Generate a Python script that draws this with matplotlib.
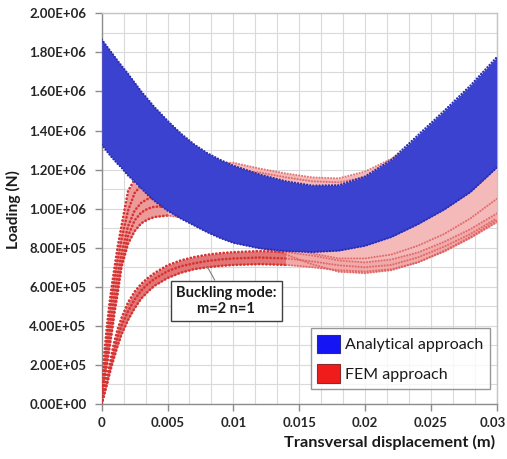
import matplotlib
matplotlib.use("Agg")
import matplotlib.pyplot as plt
from matplotlib.ticker import MultipleLocator, FixedLocator, FuncFormatter
from matplotlib.patches import Patch
from matplotlib.transforms import ScaledTranslation

plt.rcParams['font.family'] = ['Lato', 'DejaVu Sans']

# ---------------- data ----------------
disp = [0, 0.0002, 0.0004, 0.0006, 0.0008, 0.001, 0.0012, 0.0015, 0.002, 0.0025,
        0.003, 0.0035, 0.004, 0.005, 0.006, 0.007, 0.008, 0.009, 0.010, 0.012,
        0.014, 0.016, 0.018, 0.020, 0.022, 0.024, 0.026, 0.028, 0.030]

# Analytical approach: upper and lower envelope of the blue family (x1e6 N)
analytical_top = [1.866, 1.848, 1.830, 1.812, 1.794, 1.776, 1.758, 1.732, 1.690, 1.645,
                  1.600, 1.560, 1.520, 1.450, 1.385, 1.330, 1.285, 1.250, 1.220, 1.175,
                  1.140, 1.118, 1.120, 1.165, 1.250, 1.375, 1.500, 1.630, 1.775]
analytical_bottom = [1.328, 1.310, 1.293, 1.276, 1.260, 1.245, 1.230, 1.210, 1.170, 1.140,
                     1.105, 1.070, 1.040, 0.990, 0.950, 0.915, 0.880, 0.850, 0.825, 0.797,
                     0.783, 0.778, 0.785, 0.810, 0.855, 0.920, 0.995, 1.085, 1.210]

# FEM approach: upper fan of curves (x1e6 N)
fem_fan_1 = [0, 0.26, 0.40, 0.52, 0.62, 0.71, 0.80, 0.91, 1.09, 1.15,
             1.16, 1.165, 1.17, 1.175, 1.185, 1.20, 1.215, 1.235, 1.235, 1.205,
             1.18, 1.16, 1.155, 1.19, 1.255, 1.34, 1.44, 1.55, 1.67]
fem_fan_2 = [0, 0.20, 0.34, 0.46, 0.56, 0.65, 0.73, 0.84, 0.99, 1.08,
             1.12, 1.14, 1.15, 1.16, 1.17, 1.18, 1.19, 1.20, 1.20, 1.185,
             1.16, 1.14, 1.135, 1.16, 1.22, 1.30, 1.39, 1.49, 1.60]
fem_fan_3 = [0, 0.15, 0.28, 0.39, 0.49, 0.58, 0.66, 0.77, 0.91, 0.99,
             1.03, 1.05, 1.06, 1.06, 1.05, 1.03, 1.00, 0.98, 0.96, 0.94,
             0.93, 0.93, 0.94, 0.96, 1.00, 1.06, 1.13, 1.22, 1.33]
fem_fan_4 = [0, 0.13, 0.24, 0.34, 0.43, 0.52, 0.60, 0.72, 0.86, 0.94,
             0.98, 1.00, 1.01, 1.01, 0.99, 0.96, 0.92, 0.89, 0.86, 0.83,
             0.80, 0.77, 0.745, 0.745, 0.765, 0.81, 0.87, 0.95, 1.05]
fem_fan_5 = [0, 0.11, 0.20, 0.29, 0.38, 0.48, 0.56, 0.70, 0.82, 0.885,
             0.925, 0.945, 0.957, 0.965, 0.955, 0.925, 0.89, 0.86, 0.835, 0.80,
             0.765, 0.715, 0.677, 0.67, 0.685, 0.725, 0.785, 0.855, 0.94]

# FEM approach: lower family (buckling mode m=2 n=1)
fem_low_1 = [0, 0.07, 0.14, 0.20, 0.27, 0.33, 0.38, 0.44, 0.52, 0.575,
             0.615, 0.645, 0.67, 0.71, 0.735, 0.752, 0.764, 0.772, 0.777, 0.783,
             0.778, 0.76, 0.735, 0.725, 0.74, 0.775, 0.83, 0.895, 0.975]
fem_low_2 = [0, 0.06, 0.12, 0.18, 0.235, 0.29, 0.34, 0.40, 0.475, 0.535,
             0.58, 0.615, 0.64, 0.68, 0.705, 0.72, 0.732, 0.74, 0.745, 0.75,
             0.745, 0.73, 0.71, 0.70, 0.712, 0.75, 0.805, 0.87, 0.95]
fem_low_3 = [0, 0.05, 0.10, 0.155, 0.205, 0.25, 0.295, 0.355, 0.43, 0.49,
             0.54, 0.575, 0.605, 0.645, 0.672, 0.69, 0.70, 0.707, 0.712, 0.716,
             0.712, 0.70, 0.685, 0.678, 0.69, 0.725, 0.78, 0.85, 0.93]

x_ticks = [0, 0.005, 0.01, 0.015, 0.02, 0.025, 0.03]
x_tick_labels = ["0", "0.005", "0.01", "0.015", "0.02", "0.025", "0.03"]
y_ticks = [0, 2e5, 4e5, 6e5, 8e5, 1e6, 1.2e6, 1.4e6, 1.6e6, 1.8e6, 2e6]
legend_labels = ["Analytical approach", "FEM approach"]
annotation_text = "Buckling mode:\nm=2 n=1"

S = 1e6
def sc(v):
    return [a * S for a in v]

# ---------------- figure ----------------
fig = plt.figure(figsize=(5.07, 4.59), dpi=100)
ax = fig.add_axes([0.2006, 0.1198, 0.7791, 0.8512])

RED = '#d63232'
PINK = '#f4b9b9'
BLUE_FILL = '#3c42d0'
BLUE_DOT = '#2a2fb0'
dot = (0, (0.1, 1.3))

fan = [fem_fan_1, fem_fan_2, fem_fan_3, fem_fan_4, fem_fan_5]
low = [fem_low_1, fem_low_2, fem_low_3]
k_fan = 14    # split index: dense red part on the left, pale part on the right
k_low = 21

# FEM upper fan
ax.fill_between(disp[:k_fan], sc(fem_fan_5[:k_fan]), sc(fem_fan_1[:k_fan]),
                color='#ec9a9a', lw=0, zorder=2)
ax.fill_between(disp[k_fan - 1:], sc(fem_fan_5[k_fan - 1:]), sc(fem_fan_1[k_fan - 1:]),
                color=PINK, lw=0, zorder=2)
for c in fan:
    ax.plot(disp[:k_fan], sc(c[:k_fan]), color=RED, lw=1.9, ls=dot,
            dash_capstyle='round', zorder=3)
    ax.plot(disp[k_fan - 1:], sc(c[k_fan - 1:]), color='#de5a5a', lw=1.5, ls=dot,
            dash_capstyle='round', alpha=0.8, zorder=3)

# FEM lower family
ax.fill_between(disp[:k_low], sc(fem_low_3[:k_low]), sc(fem_low_1[:k_low]),
                color='#e27676', lw=0, zorder=2)
ax.fill_between(disp[k_low - 1:], sc(fem_low_3[k_low - 1:]), sc(fem_low_1[k_low - 1:]),
                color='#f1aaaa', lw=0, zorder=2)
for c in low:
    ax.plot(disp[:k_low], sc(c[:k_low]), color=RED, lw=1.9, ls=dot,
            dash_capstyle='round', zorder=3)
    ax.plot(disp[k_low - 1:], sc(c[k_low - 1:]), color='#de5a5a', lw=1.5, ls=dot,
            dash_capstyle='round', alpha=0.8, zorder=3)

# Analytical band
ax.fill_between(disp, sc(analytical_bottom), sc(analytical_top), color=BLUE_FILL, lw=0, zorder=4)
for c in [analytical_top, analytical_bottom]:
    ax.plot(disp, sc(c), color=BLUE_DOT, lw=1.6, ls=dot, dash_capstyle='round', zorder=5)

# axes styling
ax.set_xlim(0, 0.03)
ax.set_ylim(0, 2e6)
ax.xaxis.set_major_locator(FixedLocator(x_ticks))
ax.set_xticklabels(x_tick_labels)
ax.yaxis.set_major_locator(FixedLocator(y_ticks))
ax.yaxis.set_major_formatter(FuncFormatter(lambda v, p: f"{v:.2E}"))
ax.xaxis.set_minor_locator(MultipleLocator(0.005 / 3))
ax.yaxis.set_minor_locator(MultipleLocator(1e5))
ax.grid(True, which='both', color='#dadada', lw=0.8, zorder=0)
ax.set_axisbelow(True)
ax.tick_params(which='minor', length=0)
ax.tick_params(which='major', direction='out', length=5, width=1, color='#8c8c8c',
               labelsize=9.5, labelcolor='#262626')
ax.tick_params(axis='y', pad=6)
ax.tick_params(axis='x', pad=4)
for lab in ax.get_xticklabels() + ax.get_yticklabels():
    lab.set_fontweight('bold')
# keep the last x tick label inside the canvas
last = ax.get_xticklabels()[-1]
last.set_transform(last.get_transform() + ScaledTranslation(-4 / 100, 0, fig.dpi_scale_trans))
for s in ['left', 'bottom']:
    ax.spines[s].set_color('#8c8c8c')
    ax.spines[s].set_linewidth(1.0)
for s in ['top', 'right']:
    ax.spines[s].set_color('#c4c4c4')
    ax.spines[s].set_linewidth(1.0)

# annotation
ax.annotate(annotation_text, xy=(0.0080, 0.705e6), xytext=(0.00946, 0.528e6),
            ha='center', va='center', fontsize=10.5, fontweight='bold', color='#1a1a1a',
            bbox=dict(boxstyle='square,pad=0.35', fc='white', ec='#404040', lw=1),
            arrowprops=dict(arrowstyle='-', color='#808080', lw=0.8, shrinkA=0, shrinkB=0),
            zorder=10)

# legend
handles = [Patch(facecolor='#1414f5', edgecolor='#2a2a8a', lw=0.8),
           Patch(facecolor='#f01c1c', edgecolor='#8a2a2a', lw=0.8)]
leg = ax.legend(handles, legend_labels, loc='lower right', bbox_to_anchor=(0.983, 0.038),
                fontsize=11.5, frameon=True, fancybox=False, handlelength=1.4,
                handleheight=1.4, handletextpad=0.35, labelspacing=0.7, borderpad=0.4,
                borderaxespad=0)
leg.get_frame().set_edgecolor('#7f7f7f')
leg.get_frame().set_linewidth(1.0)
leg.set_zorder(11)
for t in leg.get_texts():
    t.set_color('#1a1a1a')

# axis titles
fig.text(390 / 507, 1 - 442 / 459, "Transversal displacement (m)", ha='center', va='center',
         fontsize=11.8, fontweight='bold', color='#1a1a1a')
fig.text(13 / 507, 1 - 210 / 459, "Loading (N)", ha='center', va='center', rotation=90,
         fontsize=11.2, fontweight='bold', color='#1a1a1a')

fig.savefig("out.png", dpi=100)
